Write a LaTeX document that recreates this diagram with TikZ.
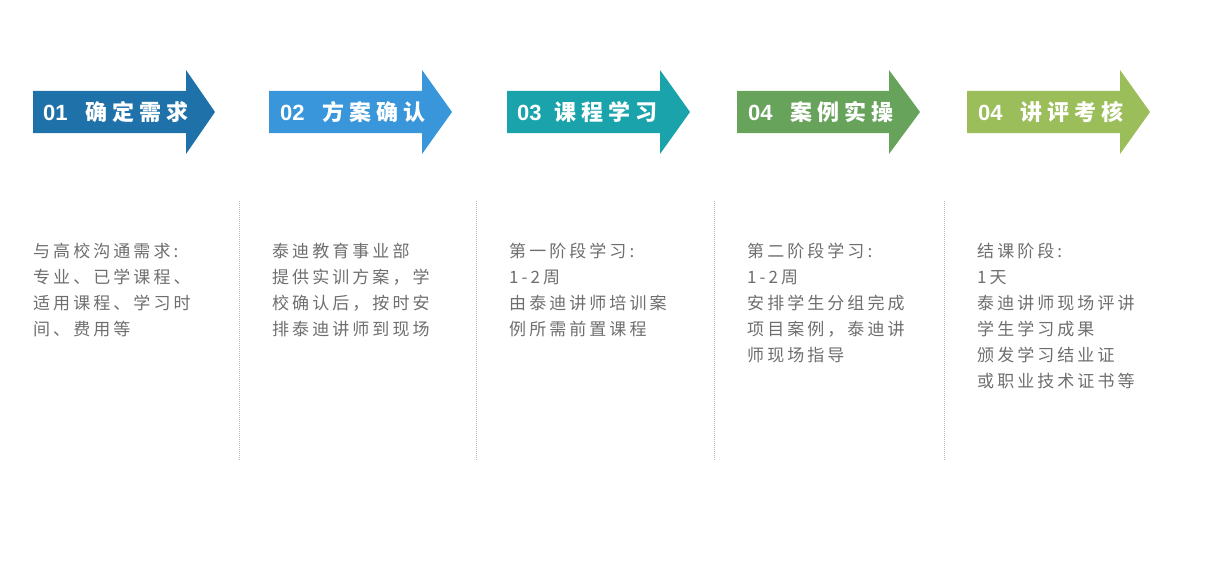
\documentclass[tikz,border=0pt]{standalone}
\usepackage{fontspec}
\setmainfont{Liberation Sans}
\newfontfamily\cjknote[LetterSpace=18]{Noto Sans CJK SC}
\newfontfamily\cjkhead[LetterSpace=23]{Noto Sans CJK SC}
\definecolor{stepA}{RGB}{31,113,170}
\definecolor{stepB}{RGB}{57,150,218}
\definecolor{stepC}{RGB}{27,163,172}
\definecolor{stepD}{RGB}{104,163,92}
\definecolor{stepE}{RGB}{155,190,90}
\definecolor{notegray}{RGB}{110,110,110}
\definecolor{sepgray}{RGB}{185,185,185}
\tikzset{steptitle/.style = {text=white, inner sep=0, anchor=west,
    font=\fontsize{22}{24}\selectfont\bfseries}}
\tikzset{stepnote/.style = {text=notegray, inner sep=0, anchor=north west, align=left,
    font=\cjknote\fontsize{17}{26}\selectfont}}
\tikzset{sepline/.style = {draw=sepgray, dash pattern=on 1pt off 1pt, line width=0.8pt}}

\begin{document}
\begin{tikzpicture}[x=1pt,y=-1pt]
  \useasboundingbox (0,0) rectangle (1209,567);

  \fill[stepA] (33,91) -- (186,91) -- (186,70) -- (215,112) -- (186,154) -- (186,133) -- (33,133) -- cycle;
  \fill[stepB] (269,91) -- (422,91) -- (422,70) -- (452,112) -- (422,154) -- (422,133) -- (269,133) -- cycle;
  \fill[stepC] (507,91) -- (660,91) -- (660,70) -- (690,112) -- (660,154) -- (660,133) -- (507,133) -- cycle;
  \fill[stepD] (737,91) -- (889,91) -- (889,70) -- (920,112) -- (889,154) -- (889,133) -- (737,133) -- cycle;
  \fill[stepE] (967,91) -- (1120,91) -- (1120,70) -- (1150,112) -- (1120,154) -- (1120,133) -- (967,133) -- cycle;

  \node[steptitle] (head1) at (43,112) {01\hspace{18pt}{\cjkhead 确定需求}};
  \node[steptitle] (head2) at (280,112) {02\hspace{18pt}{\cjkhead 方案确认}};
  \node[steptitle] (head3) at (517,112) {03\hspace{13pt}{\cjkhead 课程学习}};
  \node[steptitle] (head4) at (748,112) {04\hspace{18pt}{\cjkhead 案例实操}};
  \node[steptitle] (head5) at (978,112) {04\hspace{18pt}{\cjkhead 讲评考核}};

  \draw[sepline] (239,201) -- (239,460);
  \draw[sepline] (476,201) -- (476,460);
  \draw[sepline] (714,201) -- (714,460);
  \draw[sepline] (944,201) -- (944,460);

  \node[stepnote] (note1) at (33,243) {与高校沟通需求:\\专业、已学课程、\\适用课程、学习时\\间、费用等};
  \node[stepnote] (note2) at (272,243) {泰迪教育事业部\\提供实训方案，学\\校确认后，按时安\\排泰迪讲师到现场};
  \node[stepnote] (note3) at (509,243) {第一阶段学习:\\1-2周\\由泰迪讲师培训案\\例所需前置课程};
  \node[stepnote] (note4) at (747,243) {第二阶段学习:\\1-2周\\安排学生分组完成\\项目案例，泰迪讲\\师现场指导};
  \node[stepnote] (note5) at (977,243) {结课阶段:\\1天\\泰迪讲师现场评讲\\学生学习成果\\颁发学习结业证\\或职业技术证书等};
\end{tikzpicture}
\end{document}
